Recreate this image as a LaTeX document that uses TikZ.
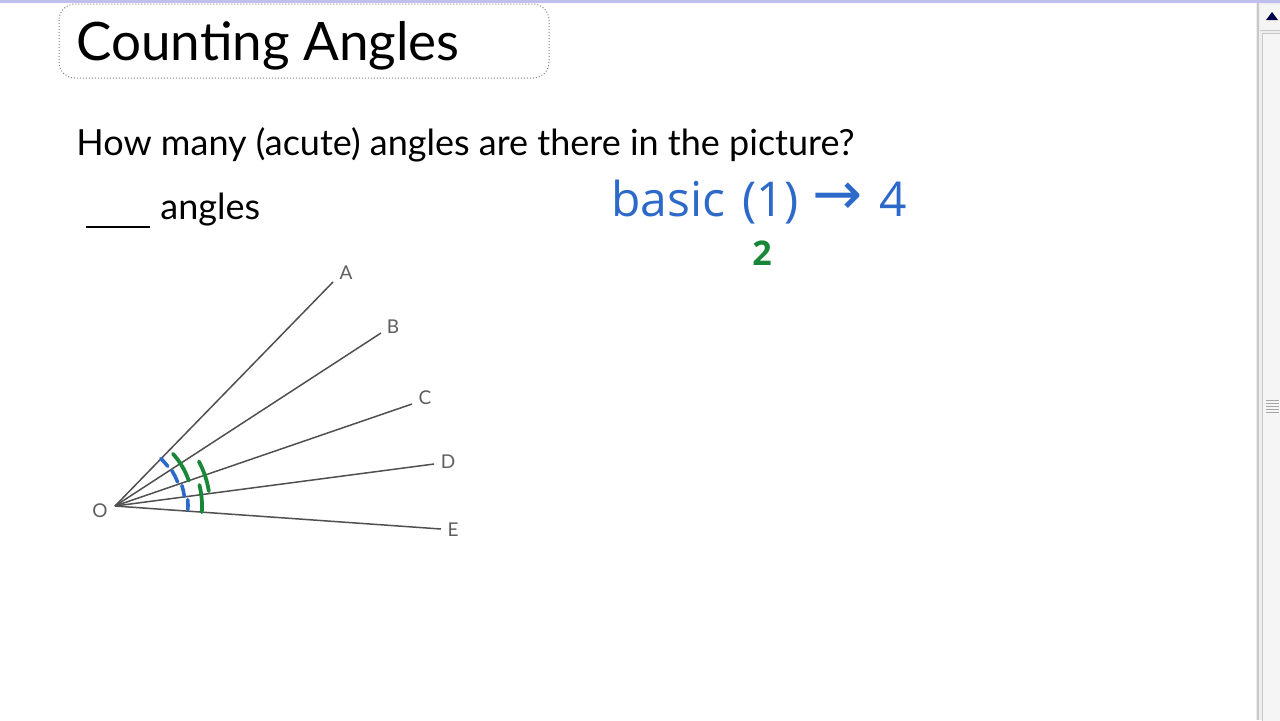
\documentclass[tikz,border=0pt]{standalone}
\usepackage{fontspec}
\setmainfont{Lato}
\newfontfamily\hand{Open Sans}
\newfontfamily\sym{DejaVu Sans}
\definecolor{ray}{RGB}{80,80,80}
\definecolor{pen}{RGB}{45,105,200}
\definecolor{grn}{RGB}{25,135,55}
\definecolor{lbl}{RGB}{95,95,95}
\definecolor{sbbg}{RGB}{238,238,238}
\definecolor{sbln}{RGB}{200,200,200}
\tikzset{
  rayline/.style={draw=ray, line width=0.75pt},
  ptlabel/.style={text=lbl, font=\fontsize{9.5}{11}\selectfont, inner sep=0pt},
  bluearc/.style={draw=pen, line width=1.8pt, line cap=round},
  greenarc/.style={draw=grn, line width=1.9pt, line cap=round},
  handtext/.style={text=pen, font=\hand\fontsize{24}{28}\selectfont, inner sep=0pt, anchor=base west},
}
\begin{document}
\begin{tikzpicture}[x=0.5pt,y=-0.5pt]
\useasboundingbox (0,0) rectangle (1280,720);
\fill[white] (0,0) rectangle (1280,720);
% top border
\fill[black!25!blue!25] (0,0) rectangle (1280,3);
% title box
\draw[densely dotted, draw=black!50, line width=0.5pt, rounded corners=8pt] (59,4) rectangle (549,78);
\node[anchor=base west, inner sep=0pt, font=\fontsize{26.5}{30}\selectfont] (title) at (76,60) {Counting Angles};
% question
\node[anchor=base west, inner sep=0pt, font=\fontsize{18}{21}\selectfont] (q) at (76,155) {How many (acute) angles are there in the picture?};
\draw[line width=1.1pt] (86,227) coordinate (u1) -- (150,227) coordinate (u2);
\node[anchor=base west, inner sep=0pt, font=\fontsize{18}{21}\selectfont] (ang) at (160,219) {angles};
% rays
\coordinate (O) at (115,506);
\coordinate (A) at (333,282);
\coordinate (B) at (381,333);
\coordinate (C) at (412,404);
\coordinate (D) at (434,464);
\coordinate (E) at (441,529);
\foreach \p in {A,B,C,D,E} \draw[rayline] (O) -- (\p);
\node[ptlabel] (lA) at (346,273) {A};
\node[ptlabel] (lB) at (393,327) {B};
\node[ptlabel] (lC) at (425,398) {C};
\node[ptlabel] (lD) at (448,462) {D};
\node[ptlabel] (lE) at (453,530) {E};
\node[ptlabel] (lO) at (100,511) {O};
% angle marks (coordinate space angles: y down)
\draw[bluearc] ([shift={(-46:66)}]O) arc[start angle=-46, end angle=-37, radius=66];
\draw[bluearc] ([shift={(-32:67)}]O) arc[start angle=-32, end angle=-21, radius=67];
\draw[bluearc] ([shift={(-17:70)}]O) arc[start angle=-17, end angle=-8, radius=70];
\draw[bluearc] ([shift={(-5:73)}]O) arc[start angle=-5, end angle=3, radius=73];
\draw[greenarc] ([shift={(-42:78)}]O) arc[start angle=-42, end angle=-19, radius=78];
\draw[greenarc] ([shift={(-28:95)}]O) arc[start angle=-28, end angle=-9, radius=95];
\draw[greenarc] ([shift={(-14:87)}]O) arc[start angle=-14, end angle=4, radius=87];
% handwritten notes
\node[handtext] (basic) at (611,216) {basic};
\node[handtext] (one) at (742,216) {(1)};
\node[handtext, font=\sym\fontsize{30}{34}\selectfont] (arr) at (812,214) {→};
\node[handtext] (four) at (879,216) {4};
\node[handtext, text=grn, font=\hand\bfseries\fontsize{17}{20}\selectfont] (two) at (752,265) {2};
% scrollbar
\fill[sbbg] (1256,3) rectangle (1280,720);
\draw[sbln, line width=0.6pt] (1258,3) -- (1258,720);
\fill[white!96!black] (1260,5) rectangle (1280,30);
\draw[sbln, line width=0.4pt] (1260,30) -- (1280,30);
\fill[black!70!blue] (1266,20) -- (1278,20) -- (1272,12) -- cycle;
\draw[sbln, line width=0.5pt, fill=black!4] (1262,33) rectangle (1281,721);
\foreach \yy in {400,403,406,409,412} \draw[black!35, line width=0.5pt] (1266,\yy) -- (1279,\yy);
\end{tikzpicture}
\end{document}
